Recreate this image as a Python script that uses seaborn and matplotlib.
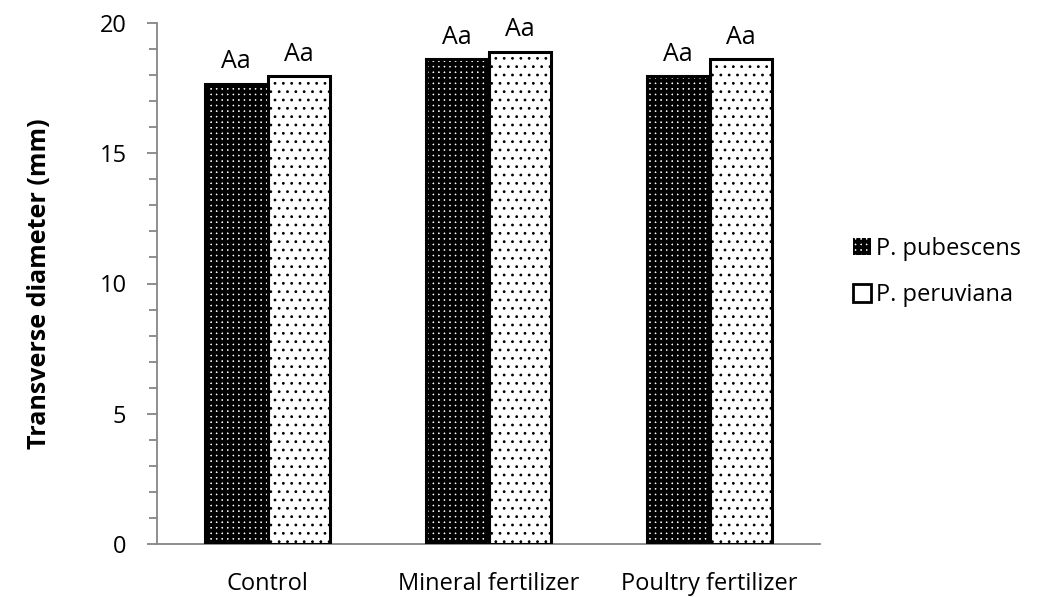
import matplotlib
matplotlib.use("Agg")
import matplotlib.pyplot as plt
from matplotlib.patches import Rectangle
from matplotlib.ticker import MultipleLocator
import seaborn as sns
import pandas as pd

categories = ["Control", "Mineral fertilizer", "Poultry fertilizer"]
series = ["P. pubescens", "P. peruviana"]
pubescens = [17.65, 18.6, 17.95]
peruviana = [17.95, 18.9, 18.6]
labels_pub = ["Aa", "Aa", "Aa"]
labels_per = ["Aa", "Aa", "Aa"]

df = pd.DataFrame({
    "Treatment": categories * 2,
    "Species": [series[0]] * 3 + [series[1]] * 3,
    "Value": pubescens + peruviana,
})

sns.set_theme(style="white")
plt.rcParams["font.family"] = ["Open Sans", "DejaVu Sans"]
plt.rcParams["hatch.linewidth"] = 2.8
plt.rcParams["text.color"] = "black"
plt.rcParams["axes.labelcolor"] = "black"

fig = plt.figure(figsize=(10.37, 5.97), dpi=100)
ax = fig.add_axes([157 / 1037, 1 - 544 / 597, (820 - 157) / 1037, (544 - 23) / 597])

sns.barplot(data=df, x="Treatment", y="Value", hue="Species", order=categories,
            hue_order=series, palette=["black", "white"], width=0.57,
            saturation=1, ax=ax, legend=False)


def style_dark(p):
    p.set_facecolor("white")
    p.set_edgecolor("black")
    p.set_hatch("+++")
    p.set_linewidth(0)
    if hasattr(p, "set_hatch_linewidth"):
        p.set_hatch_linewidth(2.8)


def style_light(p):
    p.set_facecolor("white")
    p.set_edgecolor("black")
    p.set_hatch("..")
    p.set_linewidth(0)
    if hasattr(p, "set_hatch_linewidth"):
        p.set_hatch_linewidth(0.8)


gray = "#868686"
bars = ax.patches[:6]
for i, p in enumerate(bars):
    if i < 3:
        style_dark(p)
    else:
        style_light(p)
    ax.add_patch(Rectangle(p.get_xy(), p.get_width(), p.get_height(), fill=False,
                           ec="black", lw=2.2, zorder=3))

texts = labels_pub + labels_per
for p, t in zip(bars, texts):
    ax.annotate(t, (p.get_x() + p.get_width() / 2, p.get_height()),
                xytext=(0, 7), textcoords="offset points", ha="center", va="bottom",
                fontsize=18, color="black")

ax.set_ylim(0, 20)
ax.set_xlim(-0.5, 2.5)
ax.yaxis.set_major_locator(MultipleLocator(5))
ax.yaxis.set_minor_locator(MultipleLocator(1))
ax.set_xticks([0, 1, 2])
ax.set_xticks([-0.5, 0.5, 1.5, 2.5], minor=True)
ax.tick_params(axis="x", which="major", length=0, labelsize=17, pad=20, labelcolor="black")
ax.tick_params(axis="x", which="minor", length=7, width=1.3, color=gray, direction="out")
ax.tick_params(axis="y", which="major", length=7, width=1.3, color=gray, labelsize=17,
               pad=15, direction="out", left=True, labelcolor="black")
ax.tick_params(axis="y", which="minor", length=6, width=1.3, color=gray, direction="out", left=True)
for s in ["top", "right"]:
    ax.spines[s].set_visible(False)
for s in ["left", "bottom"]:
    ax.spines[s].set_color(gray)
    ax.spines[s].set_linewidth(1.3)
ax.set_xlabel("")
ax.set_ylabel("Transverse diameter (mm)", fontsize=18, fontweight="bold", labelpad=34,
              color="black")

# legend
h1 = Rectangle((0, 0), 1, 1, facecolor="white", edgecolor="black", hatch="+++", lw=0)
h2 = Rectangle((0, 0), 1, 1, facecolor="white", edgecolor="black", hatch="", lw=2)
leg = fig.legend([h1, h2], series, loc="center left", bbox_to_anchor=(832 / 1037, 1 - 272 / 597),
                 frameon=False, fontsize=17, handlelength=0.75, handleheight=0.75,
                 handletextpad=0.2, labelspacing=0.95, labelcolor="black")

fig.savefig("out.png", dpi=100, facecolor="white")
